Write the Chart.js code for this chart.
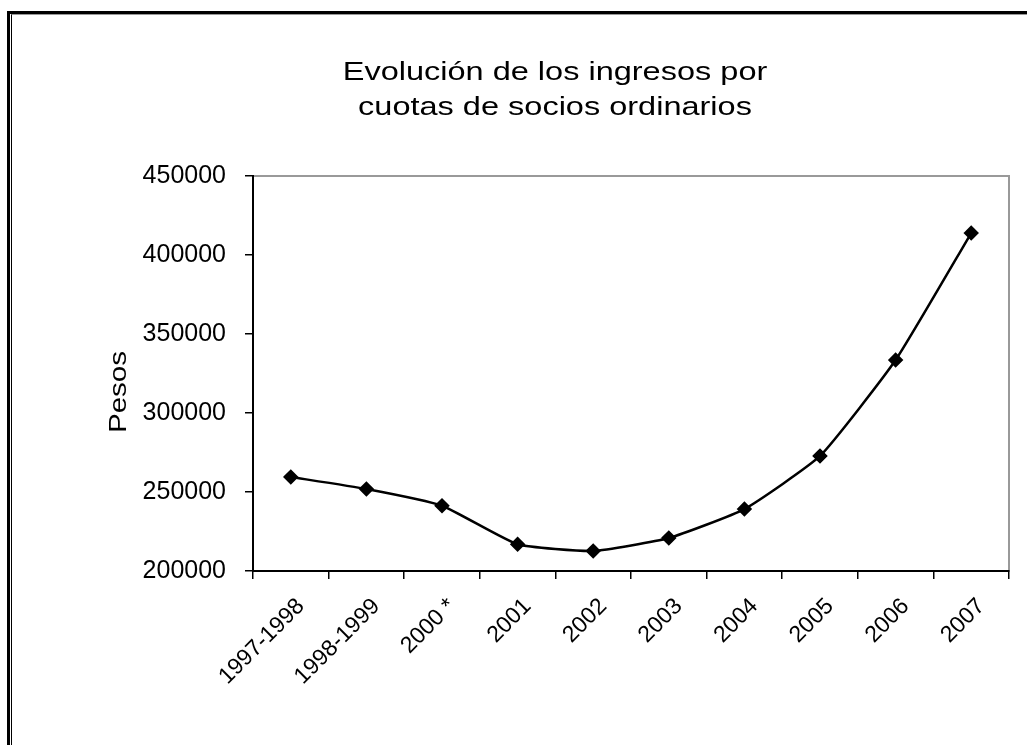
<!DOCTYPE html>
<html>
<head>
<meta charset="utf-8">
<script src="https://cdn.jsdelivr.net/npm/chart.js@4/dist/chart.umd.min.js"></script>
<style>
  body { margin: 0; background: #fff; }
  #wrap { position: relative; width: 1027px; height: 745px; }
  #frame1 { position: absolute; left: 7px; top: 11px; width: 1020px; height: 734px;
            border-top: 3px solid #000; border-left: 3px solid #000; pointer-events: none; }
  #frame2 { position: absolute; left: 11px; top: 14px; width: 1016px; height: 731px;
            border-top: 1px solid #999; border-left: 1px solid #000; pointer-events: none; }
</style>
</head>
<body>
<div id="wrap">
  <canvas id="ingresosChart" width="1027" height="745"></canvas>
  <div id="frame1"></div>
  <div id="frame2"></div>
</div>
<script>
// datos
const years = ['1997-1998', '1998-1999', '2000 *', '2001', '2002', '2003', '2004', '2005', '2006', '2007']
const pesos = [259500, 251900, 241300, 216900, 212700, 220900, 239200, 272800, 333500, 413900]
const yTicks = [200000, 250000, 300000, 350000, 400000, 450000]
const titleLines = ['Evolución de los ingresos por', 'cuotas de socios ordinarios']
const yTitle = 'Pesos'

const FONT = '"Liberation Sans", Arial, sans-serif'

// texto algo ensanchado, como en la imagen original
function wideText(ctx, text, x, y, rot, size, stretch) {
    ctx.save()
    ctx.translate(x, y)
    ctx.rotate(rot)
    ctx.scale(stretch, 1)
    ctx.font = size + 'px ' + FONT
    ctx.fillStyle = '#000'
    ctx.textAlign = 'center'
    ctx.textBaseline = 'middle'
    ctx.fillText(text, 0, 0)
    ctx.restore()
}

// borde gris del area de trazado, titulo y titulo del eje Y
const plotFrame = {
    id: 'plotFrame',
    beforeDraw(chart) {
        const a = chart.chartArea
        const ctx = chart.ctx
        ctx.save()
        ctx.strokeStyle = '#999'
        ctx.lineWidth = 2
        ctx.strokeRect(a.left, a.top, a.right - a.left, a.bottom - a.top)
        ctx.restore()
    },
    afterDraw(chart) {
        const ctx = chart.ctx
        wideText(ctx, titleLines[0], 555, 73, 0, 25, 1.3)
        wideText(ctx, titleLines[1], 555, 108, 0, 25, 1.3)
        wideText(ctx, yTitle, 119, 392, -Math.PI / 2, 24, 1.23)
    }
}

const ctx = document.getElementById('ingresosChart').getContext('2d')
const myChart = new Chart(ctx, {
    type: 'line',
    data: {
        labels: years,
        datasets: [{
            label: 'Pesos',
            data: pesos,
            borderColor: '#000',
            borderWidth: 2.5,
            backgroundColor: '#000',
            pointStyle: 'rectRot',
            pointRadius: 6,
            pointBackgroundColor: '#000',
            pointBorderColor: '#000',
            tension: 0.15,
            fill: false
        }]
    },
    options: {
        responsive: false,
        animation: false,
        layout: { padding: { left: 0, right: 18, top: 176, bottom: 0 } },
        plugins: {
            legend: { display: false },
            tooltip: { enabled: false },
            title: { display: false }
        },
        scales: {
            x: {
                offset: true,
                grid: { display: true, drawOnChartArea: false, offset: true, tickLength: 8, color: '#000', lineWidth: 1.5 },
                border: { display: true, color: '#000', width: 2 },
                ticks: {
                    autoSkip: false, minRotation: 45, maxRotation: 45,
                    color: '#000', padding: 14, labelOffset: 10,
                    font: { family: FONT, size: 23 }
                },
                afterFit(scale) { scale.height = 174 }
            },
            y: {
                min: 200000,
                max: 450000,
                afterBuildTicks(scale) { scale.ticks = yTicks.map(v => ({ value: v })) },
                grid: { display: true, drawOnChartArea: false, tickLength: 8, color: '#000', lineWidth: 1.5 },
                border: { display: true, color: '#000', width: 2 },
                ticks: {
                    color: '#000', padding: 19,
                    font: { family: FONT, size: 25 },
                    callback: function(v) { return String(v) }
                },
                afterFit(scale) { scale.width = 253 }
            }
        }
    },
    plugins: [plotFrame]
})
console.log(myChart.chartArea)
</script>
</body>
</html>
